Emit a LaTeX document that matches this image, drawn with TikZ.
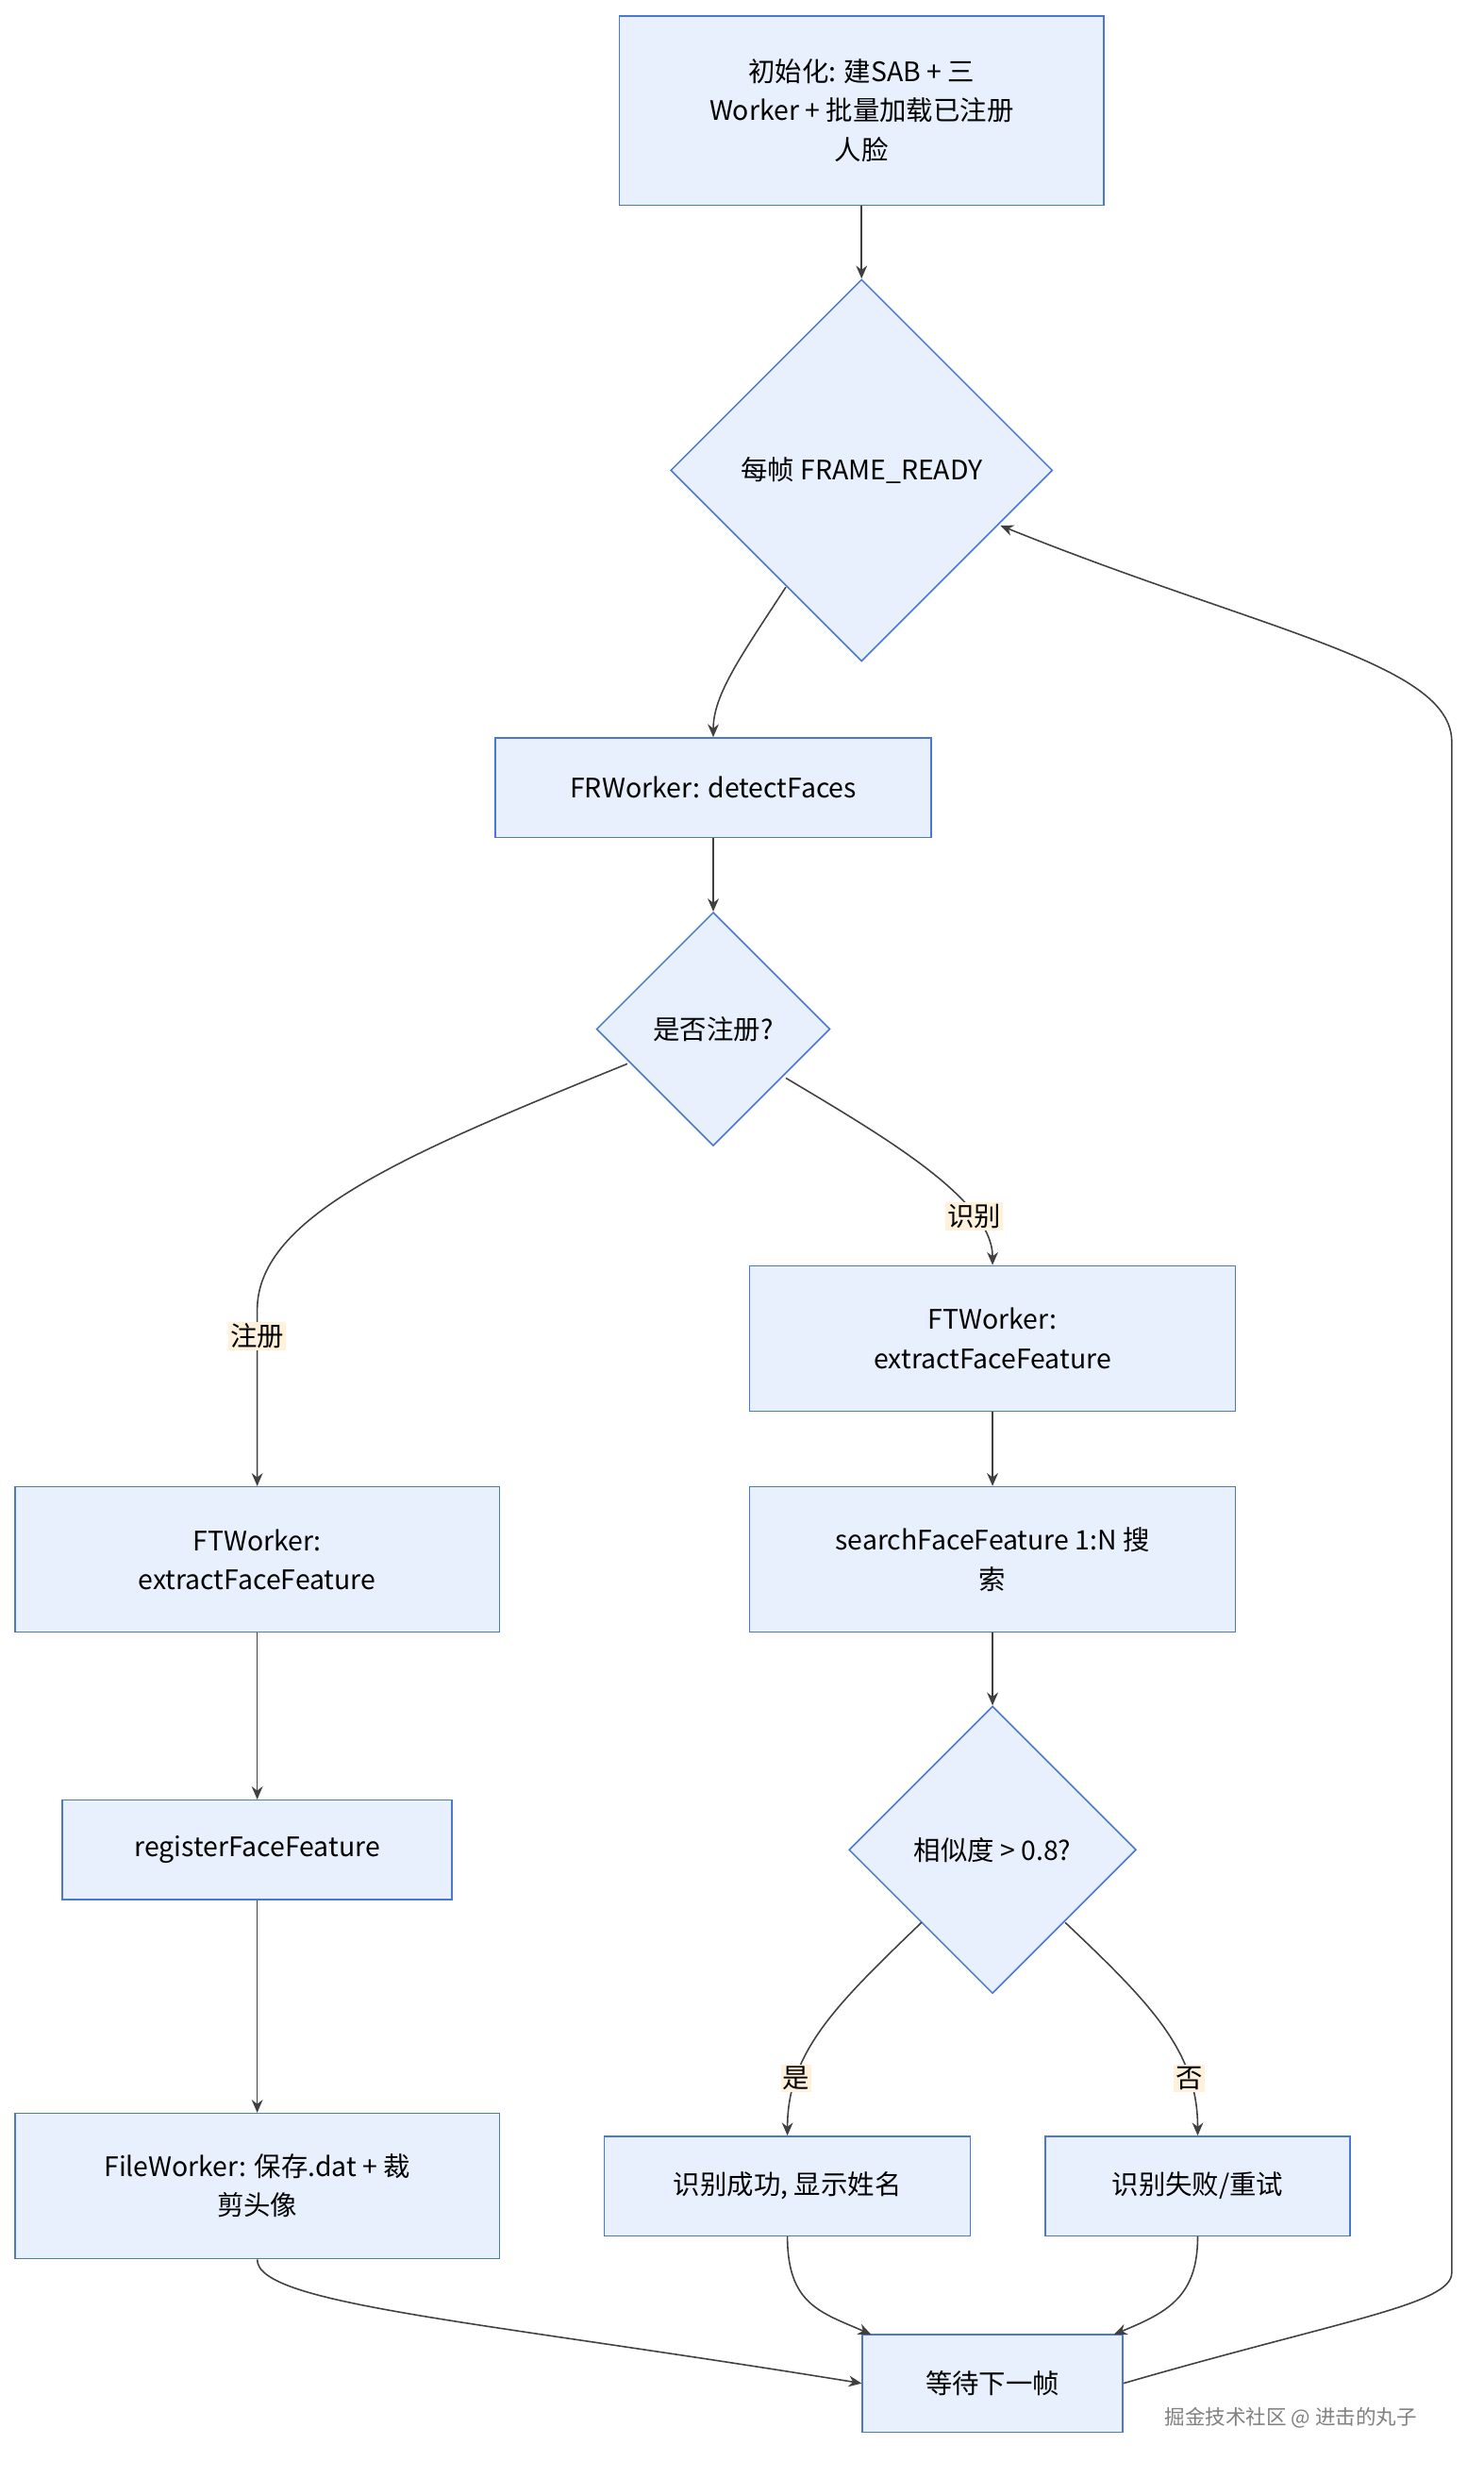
\documentclass[tikz,border=0pt]{standalone}
\usepackage{fontspec}
\setmainfont{Noto Sans CJK SC}
\usetikzlibrary{arrows.meta,shapes.geometric}
\usetikzlibrary{positioning}
\definecolor{boxfill}{HTML}{E8F0FE}
\definecolor{boxline}{HTML}{4A78D0}
\definecolor{lblfill}{HTML}{FFF1DA}
\definecolor{edgec}{HTML}{404040}
\begin{document}
\begin{tikzpicture}[x=0.03cm,y=-0.03cm,
  font=\fontsize{14.5}{21}\selectfont,
  box/.style={rectangle,draw=boxline,fill=boxfill,line width=0.8pt,align=center,inner sep=0pt},
  decision/.style={diamond,draw=boxline,fill=boxfill,line width=0.8pt,align=center,inner sep=0pt,aspect=1},
  lbl/.style={fill=lblfill,inner sep=1pt},
  line/.style={draw=edgec,line width=0.8pt,-{Stealth[length=7pt,width=6pt]}}]
\useasboundingbox (0,0) rectangle (940,1570);
% nodes
\node at (546,70)[box,minimum width=307*0.03cm,minimum height=120*0.03cm](init){初始化: 建SAB + 三\\Worker + 批量加载已注册\\人脸};
\node at (546,298)[decision,minimum width=242*0.03cm,minimum height=242*0.03cm](frame){每帧 FRAME\_READY};
\node at (452,499)[box,minimum width=276*0.03cm,minimum height=63*0.03cm](detect){FRWorker: detectFaces};
\node at (452,652)[decision,minimum width=148*0.03cm,minimum height=148*0.03cm](isreg){是否注册?};
\node at (163,988)[box,minimum width=307*0.03cm,minimum height=92*0.03cm](ftl){FTWorker:\\extractFaceFeature};
\node at (163,1172)[box,minimum width=247*0.03cm,minimum height=63*0.03cm](regff){registerFaceFeature};
\node at (163,1385)[box,minimum width=307*0.03cm,minimum height=92*0.03cm](file){FileWorker: 保存.dat + 裁\\剪头像};
\node at (629,848)[box,minimum width=308*0.03cm,minimum height=92*0.03cm](ftr){FTWorker:\\extractFaceFeature};
\node at (629,988)[box,minimum width=308*0.03cm,minimum height=92*0.03cm](search){searchFaceFeature 1:N 搜\\索};
\node at (629,1172)[decision,minimum width=182*0.03cm,minimum height=182*0.03cm](sim){相似度 > 0.8?};
\node at (499,1385)[box,minimum width=232*0.03cm,minimum height=63*0.03cm](ok){识别成功, 显示姓名};
\node at (759,1385)[box,minimum width=193*0.03cm,minimum height=63*0.03cm](fail){识别失败/重试};
\node at (629,1510)[box,minimum width=165*0.03cm,minimum height=62*0.03cm](wait){等待下一帧};
\node at (818,1532)[text=gray,font=\fontsize{11}{13}\selectfont](mark){掘金技术社区 @ 进击的丸子};
\coordinate (up) at (920,1440);
% edges
\draw[line] (init) -- (frame);
\draw[line] (498,372) .. controls (470,415) and (452,440) .. (detect.north);
\draw[line] (detect) -- (isreg);
\draw[line] (isreg.west) ++(20,22) .. controls (260,730) and (163,770) .. (163,830) node[lbl,pos=1,below=6pt]{注册} -- (ftl.north);
\draw[line] (498,683) .. controls (560,720) and (629,760) .. (ftr.north) node[lbl,pos=0.75]{识别};
\draw[line] (ftl) -- (regff);
\draw[line] (regff) -- (file);
\draw[line] (ftr) -- (search);
\draw[line] (search) -- (sim);
\draw[line] (584,1218) .. controls (530,1270) and (499,1300) .. (ok.north) node[lbl,pos=0.75]{是};
\draw[line] (675,1218) .. controls (730,1270) and (759,1300) .. (fail.north) node[lbl,pos=0.75]{否};
\draw[line] (file.south) .. controls (163,1460) and (300,1470) .. (wait.west);
\draw[line] (ok.south) .. controls (499,1460) and (520,1465) .. (552,1479);
\draw[line] (fail.south) .. controls (759,1455) and (740,1465) .. (706,1479);
\draw[line] (wait.east) .. controls (850,1470) and (920,1460) .. (up) -- (920,470) .. controls (920,420) and (800,400) .. (634,333);
\end{tikzpicture}
\end{document}
